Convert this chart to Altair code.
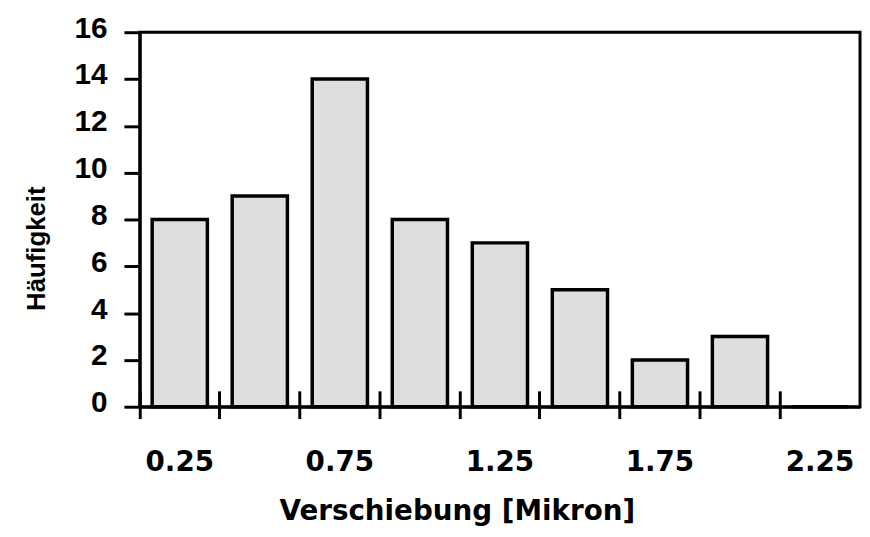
import json
import altair as alt
import pandas as pd

# ---- data ----
categories = ["0.25", "0.5", "0.75", "1.0", "1.25", "1.5", "1.75", "2.0", "2.25"]
counts = [8, 9, 14, 8, 7, 5, 2, 3, 0]
shown_labels = ["0.25", "0.75", "1.25", "1.75", "2.25"]
y_ticks = [0, 2, 4, 6, 8, 10, 12, 14, 16]

df = pd.DataFrame({"bin": categories, "count": counts})

PLOT_W, PLOT_H = 727, 378
PAD_INNER = 0.31
# put the category-boundary ticks in the middle of the gaps between bars
GAP_POS = -PAD_INNER / (2 * (1 - PAD_INNER))

xscale = alt.Scale(domain=categories, paddingInner=PAD_INNER, paddingOuter=PAD_INNER / 2)
yscale = alt.Scale(domain=[0, 16], nice=False, zero=True)

label_expr = "indexof(" + json.dumps(shown_labels) + ", datum.label) >= 0 ? datum.label : ''"

bars = alt.Chart(df).mark_bar(
    fill="#dedede", stroke="black", strokeWidth=3.5
).encode(
    x=alt.X(
        "bin:N", scale=xscale, sort=categories,
        axis=alt.Axis(
            title="Verschiebung [Mikron]",
            orient="bottom",
            bandPosition=GAP_POS,
            domainColor="black", domainWidth=3,
            tickColor="black", tickWidth=3, tickSize=12,
            labelExpr=label_expr, labelAngle=0, labelOverlap=False,
            labelFont="DejaVu Sans", labelFontWeight="bold", labelFontSize=28,
            labelColor="black", labelPadding=30, labelBaseline="top",
            titleFont="DejaVu Sans", titleFontWeight="bold", titleFontSize=28,
            titleColor="black", titleX=320, titleY=114, titleAlign="center",
            titleBaseline="alphabetic",
        ),
    ),
    y=alt.Y(
        "count:Q", scale=yscale,
        axis=alt.Axis(
            title="Häufigkeit",
            values=y_ticks, grid=False,
            domainColor="black", domainWidth=3,
            tickColor="black", tickWidth=3, tickSize=16,
            labelFont="Liberation Sans", labelFontWeight="bold", labelFontSize=30,
            labelColor="black", labelPadding=17, labelOffset=-4,
            titleFont="Liberation Sans", titleFontWeight="bold", titleFontSize=26,
            titleColor="black", titleX=-96, titleY=218, titleAngle=-90,
            titleAlign="center", titleBaseline="alphabetic",
        ),
    ),
)

inner_ticks = alt.Chart(df).mark_bar(opacity=0).encode(
    x=alt.X(
        "bin:N", scale=xscale, sort=categories,
        axis=alt.Axis(
            orient="top", offset=-PLOT_H, title=None, labels=False,
            domain=False, bandPosition=GAP_POS,
            tickColor="black", tickWidth=3, tickSize=16,
        ),
    ),
    y=alt.Y("count:Q", scale=yscale),
)

chart = alt.layer(inner_ticks, bars).resolve_axis(x="independent").properties(
    width=PLOT_W, height=PLOT_H,
    autosize=alt.AutoSizeParams(type="none"),
    padding={"left": 133, "top": 22, "right": 2, "bottom": 121},
    background="white",
).configure_view(
    stroke="black", strokeWidth=3
)

chart.save("out.html", embed_options={"renderer": "svg", "actions": False})
